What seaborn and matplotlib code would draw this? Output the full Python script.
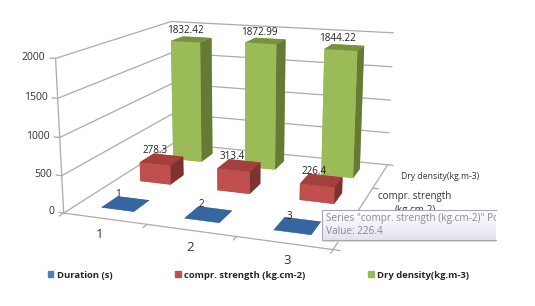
import numpy as np
import matplotlib
matplotlib.use("Agg")
import matplotlib.pyplot as plt
import seaborn as sns
from matplotlib.patches import Patch, Rectangle
from mpl_toolkits.mplot3d import proj3d

categories = ["1", "2", "3"]
series_names = ["Duration (s)", "compr. strength (kg.cm-2)", "Dry density(kg.m-3)"]
duration = [1, 2, 3]
strength = [278.3, 313.4, 226.4]
density = [1832.42, 1872.99, 1844.22]
z_ticks = [0, 500, 1000, 1500, 2000]

sns.set_theme(style="white")
plt.rcParams["font.family"] = ["Open Sans", "DejaVu Sans"]

# front, top, side colours for each series
blue = sns.color_palette(["#4F81BD", "#36669F", "#2F5A8C"])
red = sns.color_palette(["#C0504D", "#A33F3C", "#7E3331"])
green = sns.color_palette(["#9BBB59", "#76923C", "#647A35"])

fig = plt.figure(figsize=(5.35, 3.06), dpi=100)
ax = fig.add_axes([0, 0, 1, 1], projection="3d", computed_zorder=False)
ax.set_xlim(0, 3)
ax.set_ylim(0, 3)
ax.set_zlim(0, 2000)
ax.view_init(14.2, -70.31)
ax.set_proj_type("persp", focal_length=0.424)
ax.set_box_aspect((1.758, 1.724, 1))
ax.set_axis_off()
ax.patch.set_alpha(0)

# place the 3d box on the canvas
scale, off_x, off_y = 2048.3, 239.1, 117.2
vl = ax.viewLim
size = scale * vl.width
left = off_x + scale * vl.x0
bottom = 306 - (off_y - scale * vl.y0)
ax.set_position([left / 535, bottom / 306, size / 535, size / 306])


def label(x, y, z, s, **kw):
    px, py, _ = proj3d.proj_transform(x, y, z, ax.get_proj())
    ax.text2D(px, py, s, transform=ax.transData, **kw)


grid_col = "#ababab"
grid = dict(color=grid_col, lw=0.9, zorder=1)

# walls
for z in z_ticks:
    ax.plot([0, 0], [0, 3], [z, z], **grid)
    ax.plot([0, 3], [3, 3], [z, z], **grid)
    ax.plot([-0.07, 0], [0, 0], [z, z], **grid)
    label(-0.12, 0, z, str(z), ha="right", va="center", fontsize=7.5, color="#333333")

# floor and axis lines
ax.plot([0, 0], [0, 0], [0, 2000], **grid)
ax.plot([0, 3], [0, 0], [0, 0], **grid)
ax.plot([3, 3], [0, 3], [0, 0], **grid)

for i in range(4):
    ax.plot([i, i], [0, -0.1], [0, 0], **grid)
    ax.plot([3, 3.07], [i, i], [0, 0], **grid)

width = 0.4
for depth, values, cols in [(2, density, green), (1, strength, red), (0, duration, blue)]:
    front, top, side = cols
    for i, v in enumerate(values):
        faces = [front, top, front, front, front, side]
        ax.bar3d(i + 0.3, depth + 0.3, 0, width, width, v, color=faces, shade=False,
                 linewidth=0, zorder=3 + (2 - depth))
        label(i + 0.41, depth + 0.5, v + 40, str(v), ha="center", va="bottom",
              fontsize=7.1, color="#222222", zorder=20)

for i, c in enumerate(categories):
    label(i + 0.66, -0.42, 0, c, ha="center", va="center", fontsize=9.5, color="#333333")

label(3.25, 2.55, 0, series_names[2], ha="left", va="center", fontsize=6.2, color="#333333")
label(3.55, 1.63, 0, "compr. strength\n(kg.cm-2)", ha="center", va="center",
      fontsize=7, color="#333333", linespacing=1.35)

handles = [Patch(color=blue[0]), Patch(color=red[0]), Patch(color=green[0])]
fig.legend(handles, series_names, loc="center", bbox_to_anchor=(258.5 / 535, 1 - 275 / 306), ncols=3,
           frameon=False, handlelength=0.6, handleheight=0.6, handletextpad=0.4, columnspacing=6.6,
           prop=dict(size=6.8, weight="bold"))

# hover tooltip left in the screenshot
fig.add_artist(Rectangle((323 / 535, 1 - 242 / 306), 173 / 535, 2 / 306, transform=fig.transFigure,
                         facecolor="#dcdcdc", edgecolor="none", zorder=9))
tip = fig.add_axes([322 / 535, 1 - 240 / 306, 174 / 535, 30 / 306], zorder=10)
tip.imshow(np.linspace(0, 1, 30)[:, None], aspect="auto", extent=(0, 174, 30, 0),
           cmap=sns.blend_palette(["#ffffff", "#e3e4f0"], as_cmap=True))
tip.set_xticks([])
tip.set_yticks([])
for sp in tip.spines.values():
    sp.set_color("#a8a8b0")
    sp.set_linewidth(0.8)
tip.spines["right"].set_visible(False)
tip.text(4, 9, 'Series "compr. strength (kg.cm-2)" Point "3"', ha="left", va="center",
         fontsize=7.2, color="#8a8a96", clip_on=True)
tip.text(4, 22, "Value: 226.4", ha="left", va="center", fontsize=7.2, color="#8a8a96")

fig.savefig("out.png", dpi=100)
